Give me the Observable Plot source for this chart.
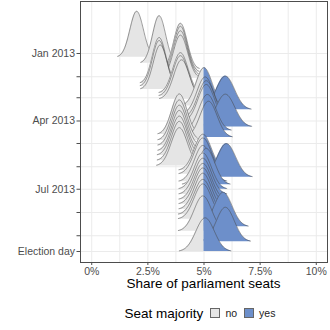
<!DOCTYPE html>
<html><head><meta charset="utf-8">
<script src="https://cdn.jsdelivr.net/npm/d3@7"></script>
<script src="https://cdn.jsdelivr.net/npm/@observablehq/plot@0.6"></script>
<style>
body{margin:0;background:#fff;font-family:"Liberation Sans",Arial,sans-serif;}
#xtitle{width:330px;box-sizing:border-box;padding-left:80px;padding-right:3px;text-align:center;font-size:13.5px;line-height:14px;height:14px;color:#000;margin-top:-1px;}
#legend{width:330px;box-sizing:border-box;padding-left:80px;padding-right:3px;height:44px;display:flex;align-items:center;justify-content:center;}
#legend .ttl{font-size:13.5px;color:#000;margin-right:7px;}
#legend .sw{width:8px;height:8px;border:1px solid #666;margin-right:5px;}
#legend .lb{font-size:10.5px;color:#222;margin-right:7px;}
</style></head><body>
<div id="chart"></div>
<div id="xtitle">Share of parliament seats</div>
<div id="legend"></div>
<script>
// Poll dates (ridge baselines), estimated mean share (%) and spread (%)
const pollDates = ["2013-01-06","2013-01-14","2013-01-22","2013-01-26","2013-01-30","2013-02-03","2013-02-10","2013-02-14","2013-02-18","2013-02-23","2013-02-27","2013-03-03","2013-03-12","2013-03-17","2013-03-23","2013-03-28","2013-04-02","2013-04-09","2013-04-14","2013-04-19","2013-04-23","2013-04-27","2013-05-04","2013-05-11","2013-05-17","2013-05-24","2013-05-31","2013-06-06","2013-06-11","2013-06-15","2013-06-21","2013-06-25","2013-07-01","2013-07-08","2013-07-15","2013-07-21","2013-07-28","2013-08-04","2013-08-10","2013-08-20","2013-08-26","2013-09-09","2013-09-22"];
const meanShare = [2.0,3.0,3.95,3.95,3.95,3.95,3.0,3.0,3.05,3.95,3.95,4.0,5.0,5.95,5.05,5.1,5.1,5.95,5.15,3.9,5.2,3.9,3.9,3.9,3.9,3.9,3.9,4.95,4.95,6.0,4.95,5.1,4.95,4.95,4.95,4.95,4.95,4.95,4.95,5.85,4.95,5.95,5.05];
const sdShare = [0.30,0.29,0.30,0.30,0.31,0.32,0.30,0.30,0.31,0.34,0.34,0.35,0.36,0.41,0.37,0.37,0.37,0.42,0.38,0.34,0.38,0.34,0.34,0.34,0.35,0.35,0.36,0.38,0.38,0.41,0.38,0.38,0.38,0.38,0.38,0.38,0.38,0.39,0.39,0.40,0.39,0.40,0.41];
const tickDates = ["2013-01-01","2013-02-01","2013-03-01","2013-04-01","2013-05-01","2013-06-01","2013-07-01","2013-08-01","2013-09-01","2013-09-22"];
const tickLabels = ["Jan 2013","","","Apr 2013","","","Jul 2013","","","Election day"];
const xTicks = [0, 2.5, 5, 7.5, 10];
const xGrid = [0, 1.25, 2.5, 3.75, 5, 6.25, 7.5, 8.75, 10];
const threshold = 5;
const majorityLabels = ["no", "yes"];
const majorityColors = ["#e5e5e5", "#6d8fca"];

const DAY = 864e5;
const ridgeScaleDays = 46.1; // vertical size of a unit density, in days
const parse = s => new Date(s + "T00:00:00Z");
const jan1 = parse("2013-01-01");
const labelMap = new Map(tickDates.map((d, i) => [+parse(d), tickLabels[i]]));

const marks = [
  Plot.gridX(xGrid, {stroke: "#ebebeb", strokeOpacity: 1, strokeWidth: 1}),
  Plot.gridY(tickDates.map(parse), {stroke: "#ebebeb", strokeOpacity: 1, strokeWidth: 1})
];

pollDates.forEach((ds, i) => {
  const base = parse(ds);
  const m = meanShare[i], s = sdShare[i];
  const lo = m - 2.8 * s, hi = m + 2.8 * s;
  const xs = d3.range(0, 121).map(k => lo + (hi - lo) * k / 120);
  if (threshold > lo && threshold < hi) xs.push(threshold);
  xs.sort((a, b) => a - b);
  const pts = xs.map(x => {
    const z = (x - m) / s;
    const dens = Math.exp(-0.5 * z * z) / (s * Math.sqrt(2 * Math.PI));
    return {x, base, top: new Date(+base - dens * ridgeScaleDays * DAY)};
  });
  const left = pts.filter(p => p.x <= threshold);
  const right = pts.filter(p => p.x >= threshold);
  if (left.length > 1) marks.push(Plot.areaY(left, {x: "x", y1: "base", y2: "top", fill: majorityColors[0]}));
  if (right.length > 1) marks.push(Plot.areaY(right, {x: "x", y1: "base", y2: "top", fill: majorityColors[1]}));
  marks.push(Plot.line(pts, {x: "x", y: "top", stroke: "#474747", strokeWidth: 0.55}));
});

marks.push(Plot.frame({stroke: "#4d4d4d", strokeWidth: 1}));

const chart = Plot.plot({
  width: 330,
  height: 278,
  marginLeft: 80,
  marginRight: 3,
  marginTop: 1,
  marginBottom: 16,
  style: {fontFamily: "Liberation Sans, Arial, sans-serif", fontSize: "10.5px", color: "#4d4d4d", background: "white"},
  x: {domain: [-0.5, 10.5], ticks: xTicks, tickFormat: d => d + "%", tickSize: 3, tickPadding: 2, label: null},
  y: {type: "utc", domain: [new Date(+jan1 - 69.33 * DAY), new Date(+jan1 + 278.67 * DAY)], reverse: true,
      ticks: tickDates.map(parse), tickFormat: d => labelMap.get(+d) ?? "", tickSize: 3.5, tickPadding: 2, label: null},
  marks
});
document.getElementById("chart").appendChild(chart);

const lg = document.getElementById("legend");
const t = document.createElement("span"); t.className = "ttl"; t.textContent = "Seat majority"; lg.appendChild(t);
majorityLabels.forEach((l, i) => {
  const sw = document.createElement("span"); sw.className = "sw"; sw.style.background = majorityColors[i]; lg.appendChild(sw);
  const tx = document.createElement("span"); tx.className = "lb"; tx.textContent = l; lg.appendChild(tx);
});
</script></body></html>
